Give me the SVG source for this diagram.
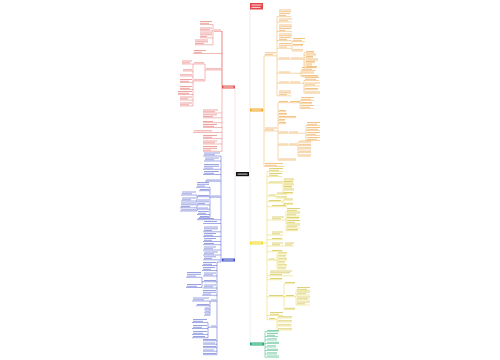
<svg xmlns="http://www.w3.org/2000/svg" width="500" height="360" viewBox="0 0 500 360">
<style>
.c{fill:none;stroke-width:.5}
.t{fill:none;stroke-width:1}
.cr{stroke:#e4736f}.tr{stroke:#eda3a0}
.co{stroke:#f1ac4f}.to{stroke:#f2c48a}
.cy{stroke:#e6d548}.ty{stroke:#ddd27a}
.cg{stroke:#2fb67f}.tg{stroke:#8fd0b1}
.cb{stroke:#4757cc}.tb{stroke:#9aa2e0}
.tw{fill:none;stroke:#fff;stroke-width:.8}
</style>
<rect width="500" height="360" fill="#fff"/>
<g id="connectors">
<path class="c" stroke="#efc6c6" d="M236 174H235V87"/>
<path class="c" stroke="#c9cdef" d="M235 174V260"/>
<path class="c" stroke="#efd2d2" d="M249 174H250V9"/>
<path class="c" stroke="#cfe8dd" d="M250 174V344"/>
<path class="c cr" d="M222 87V31M222 31V151.3M214 31.5H222M213 24.5V44.8M200 24.5H213M200 31H213M200 37.8H213M195 44.8H213M193 53.5H222M205 70H222M205 64V81M193 64H205M193 81H205M193 64V106M182 64H193M183 71H193M180 76H193M180 82.5H193M180 89.5H193M178 94.5H193M180 100H193M180 106H193M203 113H222M203 117.8H222M203 122.7H222M203 127.5H222M193 132.5H222M203 138.5H222M203 144H222M203 151.3H222"/>
<path class="c co" d="M263 110H264M264 55.8V166.5M264 55.8H277M277 16.6V95.8M277 16.6H291M277 22H292M277 31.6H292M277 40.6H292M277 48.3H292M292 41.5V51M292 41.5H305M292 45.7H303M292 51H303M277 59.2H304M304 52.7V67.7M304 52.7H314M304 55.2H316M304 57.7H313M304 60.2H318M304 62.7H315M304 65.2H312M304 67.7H317M277 73.2H301M301 70.5V76.7M301 70.5H316M301 73.2H314M301 76.7H318M277 83.2H304M304 80.5V93.2M304 80.5H319M304 86H320M304 89.7H318M304 93.2H320M277 95.8H291M264 131H278M278 102.7V160.2M278 102.7H300M300 100.5V108.5M300 100.5H314M300 103.7H312M300 108.5H314M278 111.7H286M278 114.7H287M278 117.7H296M278 120.7H285M278 123.7H286M278 133.2H306M306 125.5V140.5M306 125.5H320M306 130.5H320M306 135.5H320M306 140.5H320M278 145.2H298M298 142.2V156.2M298 142.2H311M298 145.5H311M298 149H311M298 152.4H311M298 156.2H311M278 160.2H296M264 166.5H284"/>
<path class="c cy" d="M263 243H267M267 171.5V319.7M267 171.5H283M267 176.5H282M267 183.2H283M283 180.2V193.7M283 180.2H294M283 182.7H293M283 185.2H294M283 187.7H292M283 190.2H294M283 193.7H293M267 196.2H276M276 194.2V198M276 194.2H287M276 198H287M267 201.7H283M283 200.2V204.5M283 200.2H293M283 204.5H293M267 206.7H287M267 220H286M286 211.5V230.7M286 211.5H300M286 216H300M286 218.7H299M286 223.5H300M286 228H300M286 230.7H298M267 235H284M267 239.7H283M267 246H294M267 251.7H283M267 260.2H277M277 254V269M277 254H287M277 257H286M277 260H287M277 263H285M277 266H287M277 269H286M267 275.8H293M267 279.7H282M267 296.7H284M284 283.7V309.5M284 283.7H295M284 296.7H296M296 290.5V305M296 290.5H310M296 295H310M296 300H310M296 305H310M284 309.5H295M267 315.5H283M267 319.7H277M277 318V330M277 318H292M277 322H292M277 326H292M277 330H292"/>
<path class="c cg" d="M264 344H265M265 331.7V357.2M265 331.7H279M265 336.5H278M265 340H277M265 343.5H279M265 347H276M265 350.5H278M265 354H277M265 357.2H279"/>
<path class="c cb" d="M222 260H221M221 156V262H217V354.7M203 156H221M204 161H221M203 169.3H221M203 174.5H221M205 181.2H221M210 197.2H221M210 187.3V217.7M196 187.3H210M199 190.7H210M197 196.7H210M197 195V211M181 195H197M181 201H197M180 207.8H197M180 211H197M197 204.8H210M197 209.2H210M197 214.5H210M199 217.7H210M197 219.7H221M203 223.5H221M203 231.8H221M203 236.5H221M203 241.5H221M203 244.7H221M203 250H221M203 255H221M203 259.8H221M202 265.5H217M202 270.5H217M203 276H217M202 281.7H217M202 277.3V287.5M186 277.3H202M186 287.5H202M203 288H217M202 295.3H217M210 301.2H217M210 301V315.2M192 301H210M196 305.7H210M204 309.2H210M204 312.2H210M204 315.2H210M208 327.2H217M208 322.5V337.7M192 322.5H208M192 328.5H208M192 334.5H208M192 337.7H208M203 340.7H217M203 344.2H217M203 347.7H217M203 351.2H217M203 354.7H217"/>
</g>
<g id="root"><rect x="236" y="172" width="13" height="4.2" fill="#111"/><path class="tw" d="M237.5 174.1h10"/></g>
<g id="top-red"><rect x="250" y="3" width="13" height="6.5" fill="#e3454b"/><path class="tw" d="M251.5 5h10M251.5 7.4h9"/></g>
<g id="red-main"><rect x="222" y="85.5" width="13" height="3" fill="#e5534f"/><path class="tw" d="M223.5 87h10"/></g>
<g id="orange-main"><rect x="250" y="108.5" width="13" height="3" fill="#f5a623"/><path class="tw" d="M251.5 110h10"/></g>
<g id="yellow-main"><rect x="250" y="241.5" width="13" height="3" fill="#f4dc26"/><path class="tw" d="M251.5 243h10"/></g>
<g id="green-main"><rect x="250" y="342.5" width="14" height="3" fill="#17a86b"/><path class="tw" d="M251.5 344h11"/></g>
<g id="blue-main"><rect x="222" y="258.5" width="13" height="3" fill="#3d4fc9"/><path class="tw" d="M223.5 260h10"/></g>
<g id="red-a"><path class="t tr" d="M214 30h7M200 21.5h12M200 23.3h9M200 28h12M200 29.8h10M200 33h12M200 34.8h12M200 36.6h7M195 40h13M195 41.8h13M195 43.6h9"/></g>
<g id="red-b"><path class="t tr" d="M194 50.5h12M194 52.3h8"/></g>
<g id="red-c"><path class="t tr" d="M206 68.8h15M194 62.8h10M194 79.8h10M182 61h10M182 62.8h8M183 69.8h9M180 74.8h12M180 79.5h12M180 81.3h9M180 86.5h12M180 88.3h10M178 91.5h14M178 93.3h11M180 97h12M180 98.8h8M180 103h12M180 104.8h9"/></g>
<g id="red-d"><path class="t tr" d="M203 110h15M203 111.8h12M203 114.8h14M203 116.6h10M203 121.5h10M203 124.5h14M203 126.3h11M194 130.8h18M203 135.5h14M203 137.3h9M203 141h14M203 142.8h12M203 146.5h14M203 148.3h14M203 150.1h8"/></g>
<g id="orange-a"><path class="t to" d="M265 52.8h11M265 54.6h8M279 10h12M279 11.8h12M279 13.6h11M279 15.4h7M279 19h13M279 20.8h9M279 25h13M279 26.8h13M279 28.6h12M279 30.4h6M279 34h13M279 35.8h13M279 37.6h12M279 39.4h8M279 43.5h12M279 45.3h12M279 47.1h8M293 38.5h12M293 40.3h9M293 44.5h10M293 49.8h10M279 58h11M291 58h12M306 51.5h8M306 54h10M306 56.5h7M306 59h12M306 61.5h9M306 64h6M306 66.5h11M279 72h11M302 67.5h14M302 69.3h10M302 72h12M302 75.5h16M279 82h10M290 82h10M305 77.5h14M305 79.3h11M305 83h15M305 84.8h10M305 88.5h13M305 92h15M279 91h12M279 92.8h12M279 94.6h8"/></g>
<g id="orange-b"><path class="t to" d="M265 128h12M265 129.8h9M279 101.5h9M290 101.5h10M301 97.5h13M301 99.3h10M301 102.5h11M301 105.5h13M301 107.3h9M279 110.5h7M279 113.5h8M279 116.5h17M279 119.5h6M279 122.5h7M279 132h9M289 132h9M307 122.5h13M307 124.3h10M307 127.5h13M307 129.3h11M307 132.5h13M307 134.3h9M307 137.5h13M307 139.3h10M279 144h9M289 144h8M299 141h12M299 144.3h12M299 147.8h12M299 151.2h12M299 155h12M279 159h17"/></g>
<g id="orange-c"><path class="t to" d="M265 163.5h18M265 165.3h12"/></g>
<g id="yellow-a"><path class="t ty" d="M269 168.5h14M269 170.3h10M269 173.5h13M269 175.3h9M269 182h13M284 179h10M284 181.5h9M284 184h10M284 186.5h8M284 189h10M284 192.5h9M269 195h6M277 193h10M277 196.8h10M269 200.5h12M284 199h9M284 203.3h9M272 205.5h14"/></g>
<g id="yellow-b"><path class="t ty" d="M272 217h12M272 218.8h9M287 208.5h13M287 210.3h10M287 213h13M287 214.8h9M287 217.5h12M287 220.5h13M287 222.3h8M287 225h13M287 226.8h10M287 229.5h11M272 232h11M272 233.8h8M272 238.5h10M272 243h11M272 244.8h8M285 243h9M285 244.8h7M272 250.5h10"/></g>
<g id="yellow-c"><path class="t ty" d="M269 259h6M278 252.8h9M278 255.8h8M278 258.8h9M278 261.8h7M278 264.8h9M278 267.8h8M270 271h22M270 272.8h20M270 274.6h12M270 278.5h12"/></g>
<g id="yellow-d"><path class="t ty" d="M269 295.5h14M285 282.5h10M286 295.5h8M297 287.5h13M297 289.3h10M297 292h13M297 293.8h9M297 297h13M297 298.8h11M297 302h13M297 303.8h8M285 308.3h10M270 312.5h13M270 314.3h9M269 318.5h6M278 316.8h14M278 320.8h14M278 324.8h13M278 328.8h14"/></g>
<g id="green-a"><path class="t tg" d="M267 330.5h12M267 333.5h11M267 335.3h8M267 338.8h10M267 342.3h12M267 345.8h9M267 349.3h11M267 352.8h10M267 356h12"/></g>
<g id="blue-a"><path class="t tb" d="M204 153h16M204 154.8h11M205 158h14M205 159.8h9M204 164.5h15M204 166.3h15M204 168.1h9M204 171.5h15M204 173.3h10M206 180h14"/></g>
<g id="blue-b"><path class="t tb" d="M211 196h9M197 182.5h12M197 184.3h12M197 186.1h8M200 189.5h9M198 195.5h11M182 192h14M182 193.8h10M182 198h14M182 199.8h9M181 203h15M181 204.8h15M181 206.6h9M181 209.8h15M198 200h11M198 201.8h11M198 203.6h7M198 208h10M198 211.5h11M198 213.3h8M200 216.5h9M198 218.5h16"/></g>
<g id="blue-c"><path class="t tb" d="M204 221.5h13M204 227h14M204 228.8h14M204 230.6h8M204 233.5h12M204 235.3h9M204 238.5h12M204 240.3h8M204 243.5h10M204 247h12M204 248.8h9M204 252h14M204 253.8h10M204 256.8h12M204 258.6h8M203 262.5h13M203 264.3h9M203 267.5h12M203 269.3h8"/></g>
<g id="blue-d"><path class="t tb" d="M204 273h12M204 274.8h9M187 272.5h14M187 274.3h14M187 276.1h9M204 280.5h12M187 284.5h14M187 286.3h10M204 285h12M204 286.8h9M203 290.5h13M203 292.3h13M203 294.1h8"/></g>
<g id="blue-e"><path class="t tb" d="M211 300h5M193 298h16M193 299.8h11M197 304.5h12M205 308h4M205 311h4M205 314h4M211 326h5M193 319.5h14M193 321.3h10M193 325.5h14M193 327.3h9M193 331.5h14M193 333.3h10M193 336.5h12M203 339.5h13M203 343h12M203 346.5h13M203 350h11M203 353.5h13"/></g>
</svg>
